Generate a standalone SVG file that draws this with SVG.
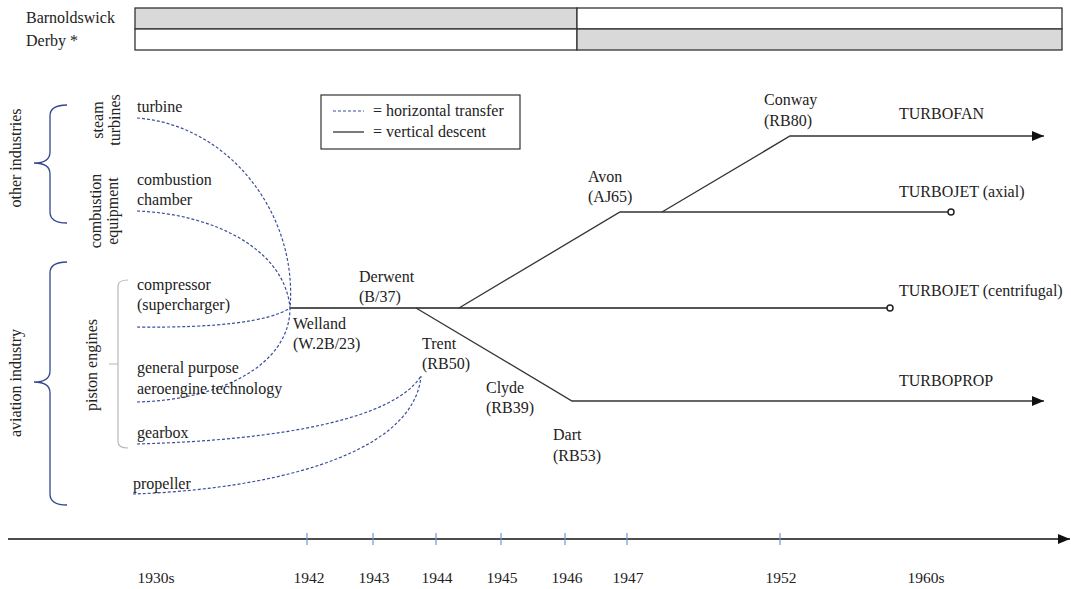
<svg xmlns="http://www.w3.org/2000/svg" width="1071" height="589" viewBox="0 0 1071 589">
<defs>
<style>
text{font-family:"Liberation Serif","Times New Roman",serif;font-size:16px;fill:#222}
.yr{text-anchor:middle;font-size:15.5px}
.bar{stroke:#333;stroke-width:1.3}
.solid{fill:none;stroke:#333;stroke-width:1.3}
.dash{fill:none;stroke:#3a4d9c;stroke-width:1.2;stroke-dasharray:3 2}
.brace{fill:none;stroke:#34478f;stroke-width:1.3}
.gbr{fill:none;stroke:#b8b8b8;stroke-width:1.2}
.tick{stroke:#6f95d8;stroke-width:1.2}
.end{fill:#fff;stroke:#222;stroke-width:1.5}
</style>
<marker id="arr" viewBox="0 0 12 10" refX="12" refY="5" markerWidth="12" markerHeight="10" markerUnits="userSpaceOnUse" orient="auto">
<path d="M0,0 L12,5 L0,10 Z" fill="#111"/>
</marker>
</defs>
<rect width="1071" height="589" fill="#fff"/>

<g id="sites">
<rect class="bar" x="135" y="8" width="442" height="21" fill="#d9d9d9"/>
<rect class="bar" x="577" y="8" width="485" height="21" fill="#fff"/>
<rect class="bar" x="135" y="29" width="442" height="21" fill="#fff"/>
<rect class="bar" x="577" y="29" width="485" height="21" fill="#d9d9d9"/>
<text x="26" y="23">Barnoldswick</text>
<text x="26" y="46">Derby *</text>
</g>

<g id="legend">
<rect x="321" y="95" width="199" height="54" fill="#fff" stroke="#333" stroke-width="1.2"/>
<line class="dash" x1="333" y1="111" x2="364" y2="111"/>
<line class="solid" x1="333" y1="132" x2="364" y2="132"/>
<text x="373" y="116">= horizontal transfer</text>
<text x="373" y="137">= vertical descent</text>
</g>

<g id="braces">
<path class="brace" d="M67,105 Q50,105 50,116 L50,152 Q50,163 34,163 Q50,163 50,174 L50,212 Q50,223 67,223"/>
<path class="brace" d="M67,262 Q50,262 50,273 L50,371 Q50,382 34,382 Q50,382 50,393 L50,494 Q50,505 67,505"/>
<path class="gbr" d="M128,280 Q118,280 118,286 L118,442 Q118,448 128,448 M118,364 L109,364"/>
<text transform="translate(21,158) rotate(-90)" text-anchor="middle">other industries</text>
<text transform="translate(21,383) rotate(-90)" text-anchor="middle">aviation industry</text>
<text transform="translate(103,120) rotate(-90)" text-anchor="middle">steam</text>
<text transform="translate(120,120) rotate(-90)" text-anchor="middle">turbines</text>
<text transform="translate(101,211) rotate(-90)" text-anchor="middle">combustion</text>
<text transform="translate(118,211) rotate(-90)" text-anchor="middle">equipment</text>
<text transform="translate(97,365) rotate(-90)" text-anchor="middle">piston engines</text>
</g>

<g id="connectors">
<path class="dash" d="M137,118 C230,125 298,215 290,308"/>
<path class="dash" d="M137,211 C215,214 285,250 290,308"/>
<path class="dash" d="M137,327 C215,328 268,322 290,308"/>
<path class="dash" d="M137,402 C220,400 290,365 290,308"/>
<path class="dash" d="M137,444 C285,440 395,418 421,376"/>
<path class="dash" d="M133,494 C255,490 413,460 421,376"/>
<line class="solid" x1="290" y1="308" x2="887" y2="308" style="stroke:#555;stroke-width:1.8"/>
<polyline class="solid" points="416,308 572,401 1044,401" marker-end="url(#arr)"/>
<polyline class="solid" points="459,308 620,212 948,212"/>
<polyline class="solid" points="662,212 790,136 1044,136" marker-end="url(#arr)"/>
<circle class="end" cx="951" cy="212" r="3"/>
<circle class="end" cx="890" cy="308" r="3"/>
</g>

<g id="sources">
<text x="137" y="112">turbine</text>
<text x="137" y="185">combustion</text>
<text x="137" y="205">chamber</text>
<text x="137" y="290">compressor</text>
<text x="137" y="310">(supercharger)</text>
<text x="137" y="373">general purpose</text>
<text x="137" y="394">aeroengine technology</text>
<text x="137" y="438">gearbox</text>
<text x="133" y="489">propeller</text>
</g>

<g id="engines">
<text x="293" y="329">Welland</text>
<text x="293" y="349">(W.2B/23)</text>
<text x="359" y="282">Derwent</text>
<text x="359" y="302">(B/37)</text>
<text x="422" y="349">Trent</text>
<text x="422" y="369">(RB50)</text>
<text x="486" y="393">Clyde</text>
<text x="486" y="413">(RB39)</text>
<text x="553" y="440">Dart</text>
<text x="553" y="461">(RB53)</text>
<text x="588" y="182">Avon</text>
<text x="588" y="202">(AJ65)</text>
<text x="764" y="105">Conway</text>
<text x="764" y="126">(RB80)</text>
</g>

<g id="types">
<text x="899" y="119">TURBOFAN</text>
<text x="899" y="197">TURBOJET (axial)</text>
<text x="899" y="296">TURBOJET (centrifugal)</text>
<text x="899" y="386">TURBOPROP</text>
</g>

<g id="timeline">
<line x1="8" y1="539" x2="1070" y2="539" stroke="#111" stroke-width="1.5" marker-end="url(#arr)"/>
<line class="tick" x1="307" y1="533" x2="307" y2="545"/>
<line class="tick" x1="373" y1="533" x2="373" y2="545"/>
<line class="tick" x1="436" y1="533" x2="436" y2="545"/>
<line class="tick" x1="501" y1="533" x2="501" y2="545"/>
<line class="tick" x1="565" y1="533" x2="565" y2="545"/>
<line class="tick" x1="627" y1="533" x2="627" y2="545"/>
<line class="tick" x1="780" y1="533" x2="780" y2="545"/>
<text class="yr" x="156" y="583">1930s</text>
<text class="yr" x="309" y="583">1942</text>
<text class="yr" x="374" y="583">1943</text>
<text class="yr" x="437" y="583">1944</text>
<text class="yr" x="502" y="583">1945</text>
<text class="yr" x="567" y="583">1946</text>
<text class="yr" x="628" y="583">1947</text>
<text class="yr" x="781" y="583">1952</text>
<text class="yr" x="926" y="583">1960s</text>
</g>
</svg>
